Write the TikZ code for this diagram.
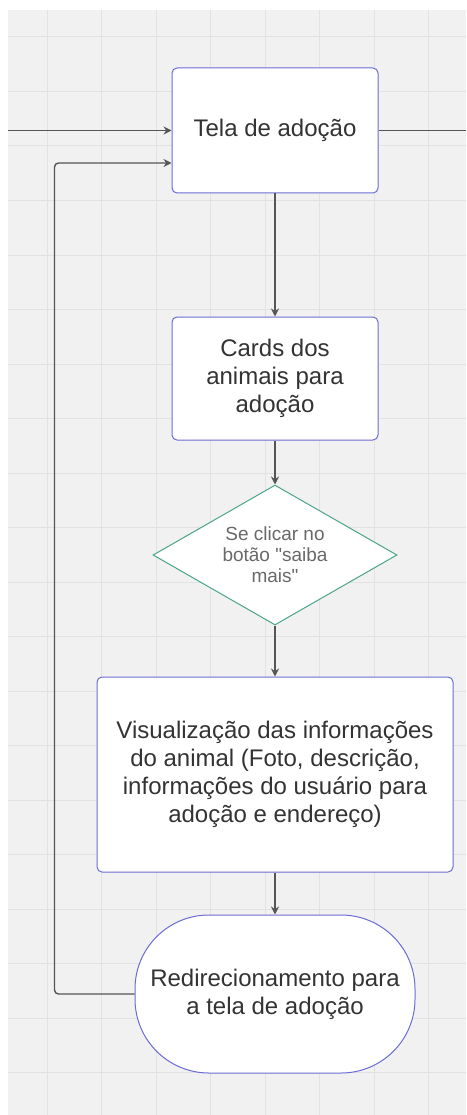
\documentclass[tikz,border=0pt]{standalone}
\usepackage{fontspec}
\setmainfont{Liberation Sans}[Ligatures=TeXOff]
\usetikzlibrary{arrows.meta,shapes,positioning}
\definecolor{flowblue}{RGB}{108,108,214}
\definecolor{flowgreen}{RGB}{74,165,138}
\definecolor{flowline}{RGB}{85,85,85}
\definecolor{flowtext}{RGB}{51,51,51}
\definecolor{flowgray}{RGB}{105,105,105}
\definecolor{canvas}{RGB}{241,241,241}
\definecolor{gridline}{RGB}{226,226,226}
\tikzstyle{arrow} = [line width=1.4pt,-{Stealth[length=8pt,width=8pt]},color=flowline]
\tikzstyle{line} = [line width=1.4pt,color=flowline]
\tikzstyle{screen} = [rectangle, rounded corners=5pt, minimum width=206pt, minimum height=125pt, text centered, align=center, draw=flowblue, fill=white, line width=1pt, text=flowtext, font=\fontsize{24}{28}\selectfont]
\tikzstyle{decision} = [diamond, shape aspect=1.74, minimum width=244pt, minimum height=140pt, inner sep=0pt, align=center, draw=flowgreen, fill=white, line width=1pt, text=flowgray, font=\fontsize{19}{21}\selectfont]
\tikzstyle{terminal} = [rectangle, rounded corners=74pt, minimum width=280pt, minimum height=158pt, align=center, draw=flowblue, fill=white, line width=1pt, text=flowtext, font=\fontsize{24}{28}\selectfont]

\begin{document}
\begin{tikzpicture}
\useasboundingbox (0,0) rectangle (466pt,-1115pt);
\fill[white] (0,0) rectangle (466pt,-1115pt);
\fill[canvas] (8pt,-10pt) rectangle (466pt,-1115pt);
\foreach \x in {0,...,7} \draw[gridline, line width=1pt] ({(47+54.5*\x)*1pt},-10pt) -- ({(47+54.5*\x)*1pt},-1115pt);
\foreach \y in {0,...,19} \draw[gridline, line width=1pt] (8pt,{(-37-54.5*\y)*1pt}) -- (466pt,{(-37-54.5*\y)*1pt});

\node (tela) [screen] at (275pt,-130.5pt) {Tela de adoção};
\node (cards) [screen, below of=tela, node distance=248pt, minimum height=123pt] {Cards dos\\animais para\\adoção};
\node (saiba) [decision, below of=cards, node distance=176.5pt] {Se clicar no\\botão "saiba\\mais"};
\node (info) [screen, below of=saiba, node distance=219.5pt, minimum width=356pt, minimum height=195pt] {Visualização das informações\\do animal (Foto, descrição,\\informações do usuário para\\adoção e endereço)};
\node (redir) [terminal, below of=info, node distance=219.5pt] {Redirecionamento para\\a tela de adoção};

\coordinate (entry) at (8pt,-130.5pt);
\coordinate (exit) at (466pt,-130.5pt);

\draw[arrow] (entry) -- (tela.west);
\draw[line] (tela.east) -- (exit);
\draw[arrow] (tela) -- (cards);
\draw[arrow] (cards) -- (saiba);
\draw[arrow] (saiba) -- (info);
\draw[arrow] (info) -- (redir);
\draw[arrow, rounded corners=4pt] (redir.west) -- ++(-80pt,0) |- ([yshift=-32.5pt]tela.west);
\end{tikzpicture}
\end{document}
